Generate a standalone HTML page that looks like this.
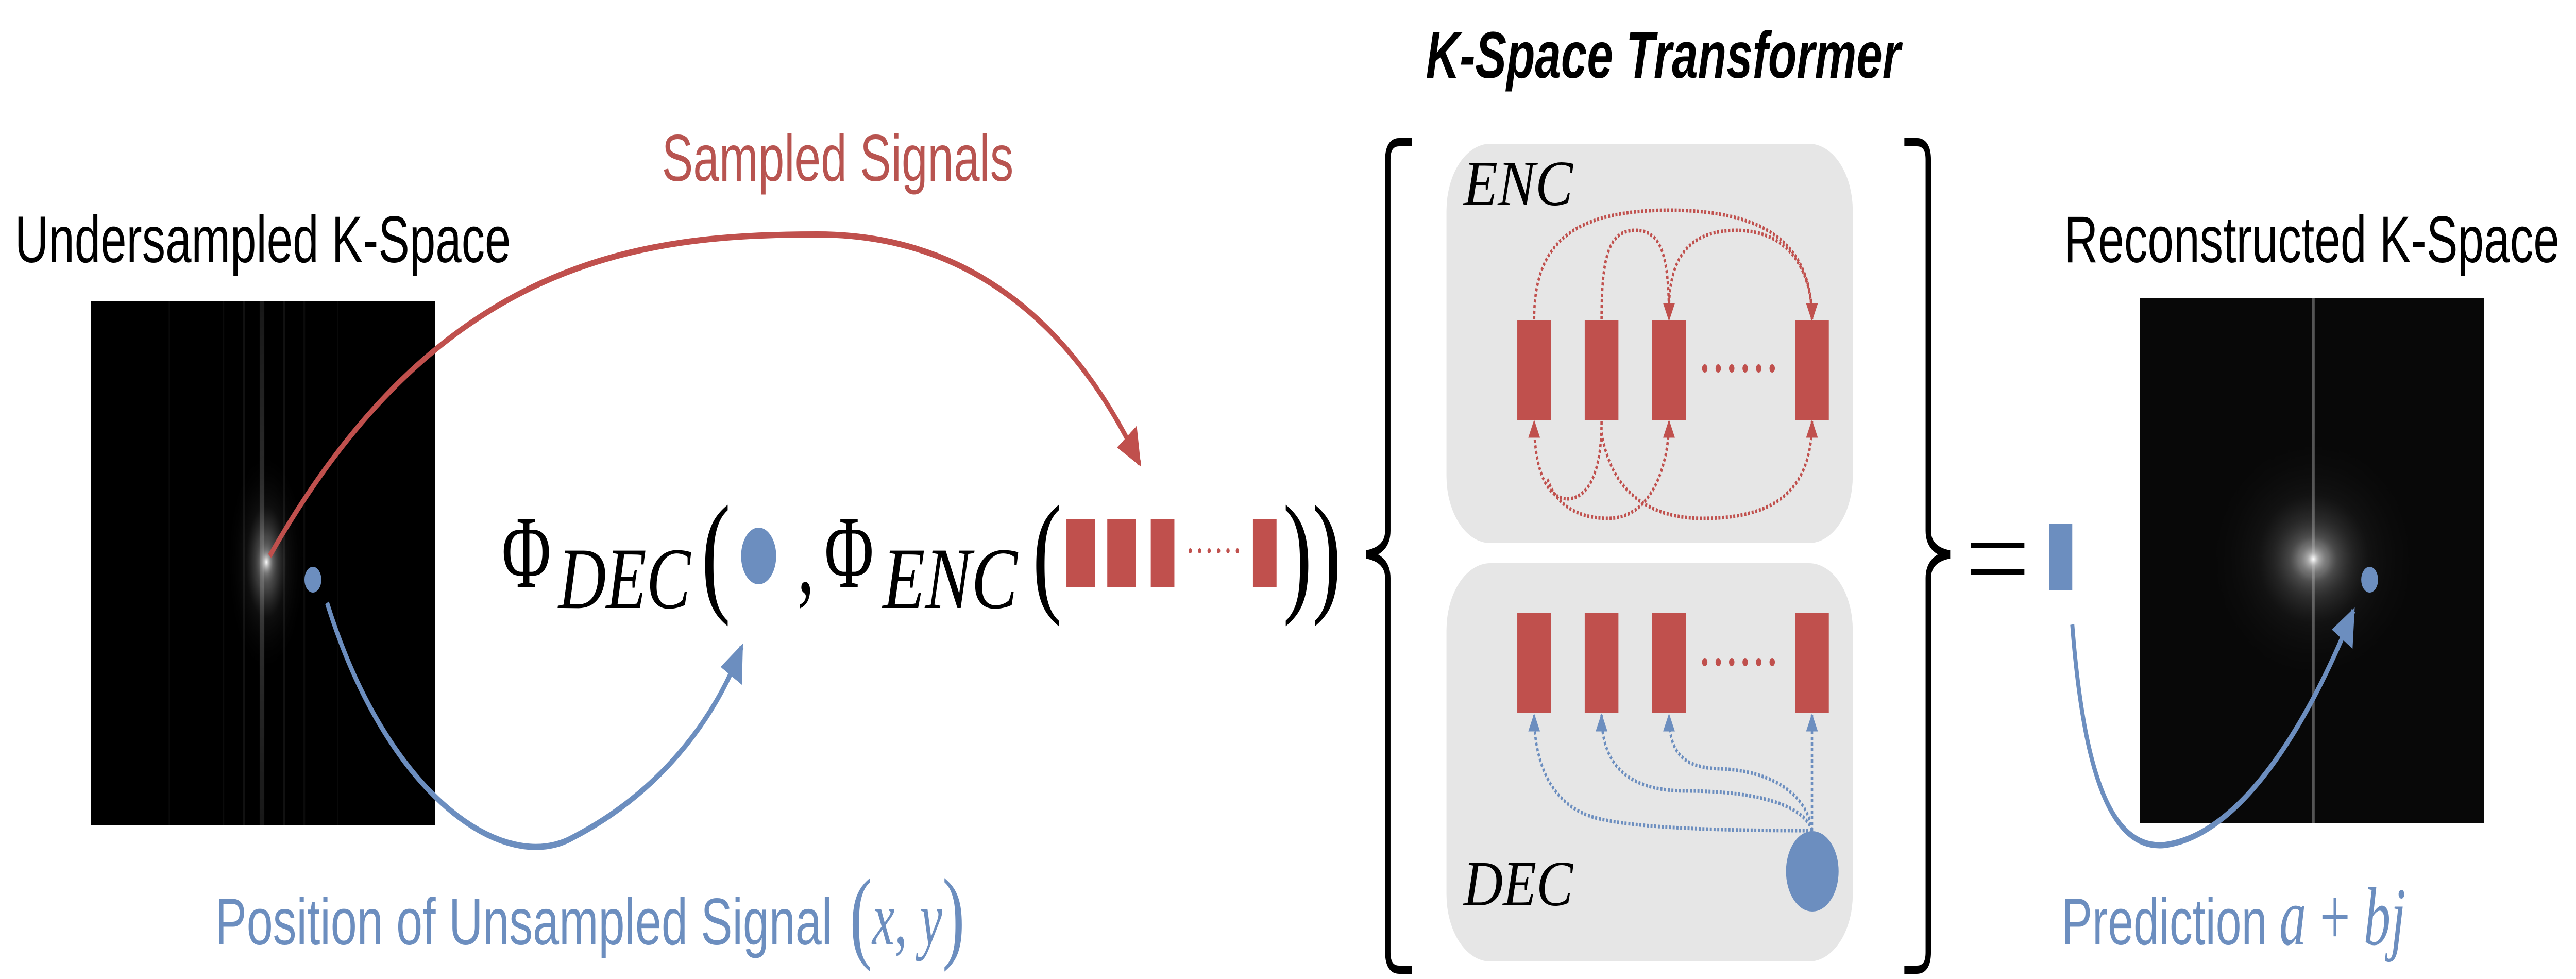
<!DOCTYPE html>
<html><head><meta charset="utf-8"><style>
html,body{margin:0;padding:0;background:#fff;width:100%;height:100%;overflow:hidden;}
svg{display:block;width:100vw;height:100vh;}
</style></head><body>
<svg viewBox="0 0 7640 1900" preserveAspectRatio="none" xmlns="http://www.w3.org/2000/svg">
<defs>
<radialGradient id="g1" cx="0.5" cy="0.5" r="0.5">
<stop offset="0" stop-color="#fff" stop-opacity="1"/>
<stop offset="0.15" stop-color="#ddd" stop-opacity="0.7"/>
<stop offset="0.5" stop-color="#777" stop-opacity="0.2"/>
<stop offset="1" stop-color="#000" stop-opacity="0"/>
</radialGradient>
<linearGradient id="vl" x1="0" y1="0" x2="0" y2="1">
<stop offset="0" stop-color="#444"/><stop offset="0.5" stop-color="#999"/><stop offset="1" stop-color="#444"/>
</linearGradient>
<marker id="ar" viewBox="0 0 10 10" refX="9" refY="5" markerWidth="6" markerHeight="6" orient="auto" markerUnits="strokeWidth"><path d="M0,0 L10,5 L0,10 z" fill="#c0504d"/></marker>
<marker id="ab" viewBox="0 0 10 10" refX="9" refY="5" markerWidth="6" markerHeight="6" orient="auto" markerUnits="strokeWidth"><path d="M0,0 L10,5 L0,10 z" fill="#6c8ebf"/></marker>
<marker id="ars" viewBox="0 0 10 10" refX="9" refY="5" markerWidth="5" markerHeight="6" orient="auto" markerUnits="strokeWidth"><path d="M0,0 L10,5 L0,10 z" fill="#c0504d"/></marker>
<marker id="abs" viewBox="0 0 10 10" refX="9" refY="5" markerWidth="5" markerHeight="6" orient="auto" markerUnits="strokeWidth"><path d="M0,0 L10,5 L0,10 z" fill="#6c8ebf"/></marker>
</defs>

<text x="44" y="509" font-family="Liberation Sans, sans-serif" font-size="128" fill="#000" textLength="1471" lengthAdjust="spacingAndGlyphs">Undersampled K-Space</text>
<rect x="269" y="584" width="1021" height="1018" fill="#000"/>
<g opacity="0.35">
<rect x="770" y="584" width="14" height="1018" fill="url(#vl)"/>
<rect x="720" y="584" width="6" height="1018" fill="#333"/>
<rect x="840" y="584" width="6" height="1018" fill="#333"/>
<rect x="660" y="584" width="5" height="1018" fill="#222"/>
<rect x="900" y="584" width="5" height="1018" fill="#222"/>
<rect x="500" y="584" width="4" height="1018" fill="#1a1a1a"/>
<rect x="1000" y="584" width="4" height="1018" fill="#1a1a1a"/>
</g>
<ellipse cx="790" cy="1091" rx="120" ry="220" fill="url(#g1)" opacity="0.6"/>
<ellipse cx="790" cy="1091" rx="40" ry="50" fill="url(#g1)"/>

<text x="6122" y="509" font-family="Liberation Sans, sans-serif" font-size="128" fill="#000" textLength="1469" lengthAdjust="spacingAndGlyphs">Reconstructed K-Space</text>
<rect x="6347" y="579" width="1021" height="1018" fill="#080808"/>
<rect x="6857" y="579" width="8" height="1018" fill="#555"/>
<ellipse cx="6861" cy="1085" rx="330" ry="250" fill="url(#g1)" opacity="0.45"/>
<ellipse cx="6861" cy="1085" rx="140" ry="90" fill="url(#g1)" opacity="0.8"/>
<ellipse cx="6861" cy="1085" rx="45" ry="35" fill="url(#g1)"/>

<text x="1963" y="351" font-family="Liberation Sans, sans-serif" font-size="128" fill="#b85450" textLength="1043" lengthAdjust="spacingAndGlyphs">Sampled Signals</text>
<path d="M800,1079 C1300,500 1900,455 2424,455 C2900,455 3200,650 3380,900" fill="none" stroke="#c0504d" stroke-width="12" marker-end="url(#ar)"/>

<circle cx="928" cy="1125" r="25" fill="#6c8ebf"/>
<path d="M970,1170 C1150,1550 1500,1700 1700,1625 C1950,1540 2120,1400 2200,1255" fill="none" stroke="#6c8ebf" stroke-width="12" marker-end="url(#ab)"/>
<text x="638" y="1833" font-family="Liberation Sans, sans-serif" font-size="128" fill="#6c8ebf" textLength="1830" lengthAdjust="spacingAndGlyphs">Position of Unsampled Signal</text>
<text x="2520" y="1833" font-family="Liberation Serif, serif" font-size="150" fill="#6c8ebf"><tspan font-size="200" dy="10">(</tspan><tspan font-style="italic" dy="-10">x</tspan>, <tspan font-style="italic">y</tspan><tspan font-size="200" dy="10">)</tspan></text>

<text x="1488" y="1139" font-family="Liberation Serif, serif" font-size="200" fill="#000">Φ</text>
<text x="1656" y="1180" font-family="Liberation Serif, serif" font-style="italic" font-size="170" fill="#000" textLength="392" lengthAdjust="spacingAndGlyphs">DEC</text>
<text x="2080" y="1160" font-family="Liberation Serif, serif" font-size="260" fill="#000">(</text>
<ellipse cx="2250" cy="1079" rx="52" ry="55" fill="#6c8ebf"/>
<text x="2365" y="1150" font-family="Liberation Serif, serif" font-size="200" fill="#000">,</text>
<text x="2445" y="1139" font-family="Liberation Serif, serif" font-size="200" fill="#000">Φ</text>
<text x="2618" y="1180" font-family="Liberation Serif, serif" font-style="italic" font-size="170" fill="#000" textLength="400" lengthAdjust="spacingAndGlyphs">ENC</text>
<text x="3062" y="1160" font-family="Liberation Serif, serif" font-size="260" fill="#000">(</text>
<rect x="3163" y="1008" width="85" height="131" fill="#c0504d"/>
<rect x="3284" y="1008" width="85" height="131" fill="#c0504d"/>
<rect x="3413" y="1008" width="70" height="131" fill="#c0504d"/>
<g fill="#c0504d"><circle cx="3530" cy="1069" r="5"/><circle cx="3558" cy="1069" r="5"/><circle cx="3586" cy="1069" r="5"/><circle cx="3614" cy="1069" r="5"/><circle cx="3642" cy="1069" r="5"/><circle cx="3670" cy="1069" r="5"/></g>
<rect x="3716" y="1008" width="70" height="131" fill="#c0504d"/>
<text x="3805" y="1160" font-family="Liberation Serif, serif" font-size="260" fill="#000">))</text>

<text x="4229" y="151" font-family="Liberation Sans, sans-serif" font-weight="bold" font-style="italic" font-size="128" fill="#000" textLength="1408" lengthAdjust="spacingAndGlyphs">K-Space Transformer</text>

<path d="M4187,276 L4150,276 Q4116,276 4116,310 L4116,1030 Q4116,1068 4052,1076 Q4116,1084 4116,1122 L4116,1848 Q4116,1882 4150,1882 L4187,1882" fill="none" stroke="#000" stroke-width="16"/>
<path d="M5648,276 L5685,276 Q5719,276 5719,310 L5719,1030 Q5719,1068 5783,1076 Q5719,1084 5719,1122 L5719,1848 Q5719,1882 5685,1882 L5648,1882" fill="none" stroke="#000" stroke-width="16"/>

<rect x="4290" y="279" width="1205" height="775" rx="130" fill="#e6e6e6"/>
<text x="4340" y="398" font-family="Liberation Serif, serif" font-style="italic" font-size="125" fill="#000" textLength="325" lengthAdjust="spacingAndGlyphs">ENC</text>
<g fill="#c0504d">
<rect x="4500" y="622" width="100" height="194"/><rect x="4700" y="622" width="100" height="194"/><rect x="4900" y="622" width="100" height="194"/><rect x="5324" y="622" width="100" height="194"/>
<circle cx="5056" cy="715" r="8"/><circle cx="5096" cy="715" r="8"/><circle cx="5136" cy="715" r="8"/><circle cx="5176" cy="715" r="8"/><circle cx="5216" cy="715" r="8"/><circle cx="5256" cy="715" r="8"/>
</g>
<g fill="none" stroke="#c0504d" stroke-width="7" stroke-dasharray="6 5">
<path d="M4550,620 C4550,480 4650,408 4950,408 C5250,408 5374,480 5374,620" marker-end="url(#ars)"/>
<path d="M4750,620 C4750,500 4770,447 4850,447 C4930,447 4950,500 4950,620" marker-end="url(#ars)"/>
<path d="M4950,600 C4950,500 5010,447 5150,447 C5300,447 5374,520 5374,620" marker-end="url(#ars)"/>
<path d="M4750,818 C4750,930 4700,968 4650,968 C4580,968 4550,900 4550,818" marker-end="url(#ars)"/>
<path d="M4590,930 C4620,990 4700,1006 4770,1006 C4900,1006 4950,900 4950,818" marker-end="url(#ars)"/>
<path d="M4750,840 C4780,960 4900,1006 5050,1006 C5250,1006 5374,960 5374,818" marker-end="url(#ars)"/>
</g>

<rect x="4290" y="1093" width="1205" height="773" rx="130" fill="#e6e6e6"/>
<text x="4340" y="1757" font-family="Liberation Serif, serif" font-style="italic" font-size="125" fill="#000" textLength="325" lengthAdjust="spacingAndGlyphs">DEC</text>
<g fill="#c0504d">
<rect x="4500" y="1190" width="100" height="194"/><rect x="4700" y="1190" width="100" height="194"/><rect x="4900" y="1190" width="100" height="194"/><rect x="5324" y="1190" width="100" height="194"/>
<circle cx="5056" cy="1285" r="8"/><circle cx="5096" cy="1285" r="8"/><circle cx="5136" cy="1285" r="8"/><circle cx="5176" cy="1285" r="8"/><circle cx="5216" cy="1285" r="8"/><circle cx="5256" cy="1285" r="8"/>
</g>
<g fill="none" stroke="#6c8ebf" stroke-width="7" stroke-dasharray="6 5">
<path d="M5374,1612 L5374,1388" marker-end="url(#abs)"/>
<path d="M5374,1612 C5360,1540 5250,1495 5100,1492 C4990,1490 4950,1460 4950,1388" marker-end="url(#abs)"/>
<path d="M5374,1612 C5350,1560 5200,1535 5000,1535 C4820,1535 4750,1480 4750,1388" marker-end="url(#abs)"/>
<path d="M5374,1612 C5250,1612 4900,1612 4750,1590 C4600,1570 4550,1480 4550,1388" marker-end="url(#abs)"/>
</g>
<circle cx="5375" cy="1691" r="78" fill="#6c8ebf"/>

<rect x="5845" y="1053" width="159" height="11" fill="#000"/>
<rect x="5845" y="1104" width="159" height="11" fill="#000"/>
<rect x="6078" y="1016" width="68" height="129" fill="#6c8ebf"/>

<circle cx="7028" cy="1125" r="25" fill="#6c8ebf"/>
<path d="M6146,1212 C6180,1500 6260,1650 6420,1640 C6650,1620 6850,1400 6980,1185" fill="none" stroke="#6c8ebf" stroke-width="12" marker-end="url(#ab)"/>
<text x="6114" y="1833" font-family="Liberation Sans, sans-serif" font-size="128" fill="#6c8ebf" textLength="610" lengthAdjust="spacingAndGlyphs">Prediction</text>
<text x="6760" y="1833" font-family="Liberation Serif, serif" font-style="italic" font-size="160" fill="#6c8ebf">a <tspan font-style="normal">+</tspan> bj</text>
</svg>
</body></html>
